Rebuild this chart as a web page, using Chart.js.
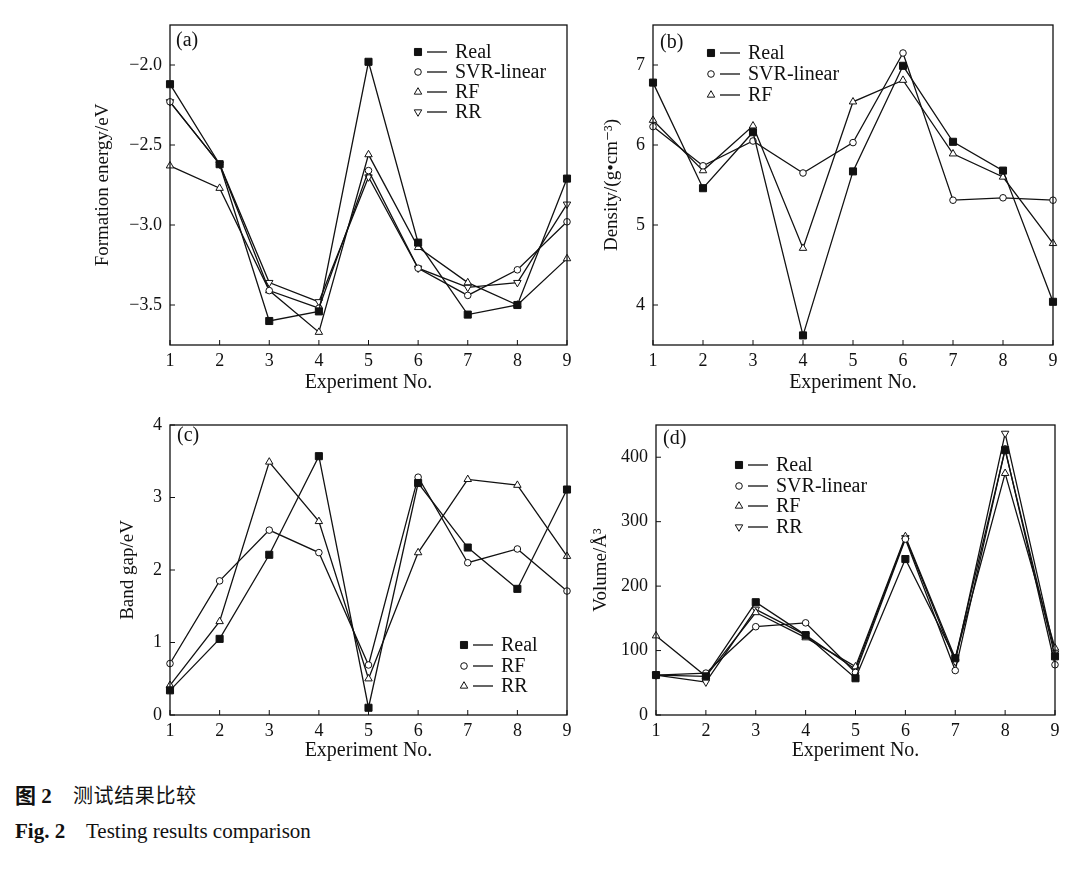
<!DOCTYPE html>
<html>
<head>
<meta charset="utf-8">
<script src="https://cdn.jsdelivr.net/npm/chart.js@4/dist/chart.umd.min.js"></script>
<style>
  html, body { margin: 0; padding: 0; background: #fff; }
  body { width: 1067px; height: 870px; position: relative; overflow: hidden; }
  canvas { position: absolute; }
  .cap { position: absolute; font-family: "Liberation Serif", "Noto Sans CJK SC", serif; font-size: 21px; color: #111; white-space: nowrap; line-height: 1; }
  .cap b { font-weight: bold; }
</style>
</head>
<body>
<canvas id="ca"></canvas>
<canvas id="cb"></canvas>
<canvas id="cc"></canvas>
<canvas id="cd"></canvas>
<div class="cap" style="left:15px; top:786px;"><b>图 2</b></div>
<div class="cap" style="left:73px; top:785px; font-family: 'Noto Sans CJK SC', sans-serif; font-size:20px; letter-spacing:0.6px;">测试结果比较</div>
<div class="cap" style="left:15px; top:821px;"><b>Fig. 2</b></div>
<div class="cap" style="left:86px; top:821px;">Testing results comparison</div>
<script>
// ---------- data ----------
const experiments = ['1', '2', '3', '4', '5', '6', '7', '8', '9'];

const formationReal = [-2.12, -2.62, -3.60, -3.54, -1.98, -3.11, -3.56, -3.50, -2.71];
const formationSVR  = [-2.23, -2.62, -3.41, -3.52, -2.66, -3.27, -3.44, -3.28, -2.98];
const formationRF   = [-2.63, -2.77, -3.41, -3.67, -2.56, -3.14, -3.36, -3.50, -3.21];
const formationRR   = [-2.23, -2.62, -3.36, -3.48, -2.70, -3.27, -3.39, -3.36, -2.87];
const formationTicks = [-3.5, -3.0, -2.5, -2.0];

const densityReal = [6.78, 5.46, 6.16, 3.62, 5.67, 6.99, 6.04, 5.68, 4.04];
const densitySVR  = [6.23, 5.74, 6.05, 5.65, 6.03, 7.15, 5.31, 5.34, 5.31];
const densityRF   = [6.31, 5.68, 6.24, 4.71, 6.54, 6.81, 5.89, 5.60, 4.77];
const densityTicks = [4, 5, 6, 7];

const bandReal = [0.34, 1.05, 2.21, 3.57, 0.10, 3.20, 2.31, 1.74, 3.11];
const bandRF   = [0.71, 1.85, 2.55, 2.24, 0.69, 3.28, 2.10, 2.29, 1.71];
const bandRR   = [0.41, 1.29, 3.49, 2.67, 0.50, 2.24, 3.25, 3.17, 2.19];
const bandTicks = [0, 1, 2, 3, 4];

const volumeReal = [62, 60, 175, 124, 57, 242, 88, 411, 91];
const volumeSVR  = [62, 65, 137, 143, 66, 273, 69, 413, 78];
const volumeRF   = [123, 60, 159, 120, 75, 277, 88, 375, 104];
const volumeRR   = [62, 51, 164, 124, 71, 275, 83, 437, 96];
const volumeTicks = [0, 100, 200, 300, 400];

// ---------- styling ----------
const INK = '#111';
const SERIF = '"Liberation Serif", "DejaVu Serif", "Times New Roman", serif';
const STYLES = {
  square: { pointStyle: 'rect', pointRadius: 5, pointRotation: 0, fill: INK },
  circle: { pointStyle: 'circle', pointRadius: 3.3, pointRotation: 0, fill: '#fff' },
  triUp:  { pointStyle: 'triangle', pointRadius: 4.3, pointRotation: 0, fill: '#fff' },
  triDn:  { pointStyle: 'triangle', pointRadius: 4.3, pointRotation: 180, fill: '#fff' }
};

function ds(label, data, styleKey) {
  const s = STYLES[styleKey];
  return {
    label, data, styleKey,
    borderColor: INK, borderWidth: 1.3,
    pointStyle: s.pointStyle, pointRadius: s.pointRadius, pointRotation: s.pointRotation,
    pointBackgroundColor: s.fill, pointBorderColor: INK, pointBorderWidth: 1,
    pointHoverRadius: s.pointRadius, tension: 0, fill: false
  };
}

function drawMarker(ctx, key, x, y) {
  const s = STYLES[key];
  ctx.save();
  ctx.lineWidth = 1; ctx.strokeStyle = INK; ctx.fillStyle = s.fill;
  ctx.beginPath();
  if (key === 'square') {
    const h = s.pointRadius * Math.SQRT1_2;
    ctx.rect(x - h, y - h, 2 * h, 2 * h);
  } else if (key === 'circle') {
    ctx.arc(x, y, s.pointRadius, 0, Math.PI * 2);
  } else {
    const r = s.pointRadius;
    let a = s.pointRotation * Math.PI / 180;
    ctx.moveTo(x + Math.sin(a) * r, y - Math.cos(a) * r);
    a += 2 * Math.PI / 3;
    ctx.lineTo(x + Math.sin(a) * r, y - Math.cos(a) * r);
    a += 2 * Math.PI / 3;
    ctx.lineTo(x + Math.sin(a) * r, y - Math.cos(a) * r);
    ctx.closePath();
  }
  ctx.fill(); ctx.stroke();
  ctx.restore();
}

const framePlugin = {
  id: 'frame',
  afterDraw(chart, args, opts) {
    const { ctx, chartArea: a } = chart;
    ctx.save();
    ctx.strokeStyle = INK; ctx.lineWidth = 1.3;
    ctx.strokeRect(a.left, a.top, a.right - a.left, a.bottom - a.top);
    // inward ticks
    ctx.lineWidth = 1;
    const xs = chart.scales.x, ys = chart.scales.y;
    ctx.beginPath();
    xs.ticks.forEach((t, i) => {
      const px = xs.getPixelForTick(i);
      ctx.moveTo(px, a.bottom); ctx.lineTo(px, a.bottom - 5);
    });
    ys.ticks.forEach((t, i) => {
      const py = ys.getPixelForValue(t.value);
      ctx.moveTo(a.left, py); ctx.lineTo(a.left + 5, py);
    });
    ctx.stroke();
    // panel label
    ctx.fillStyle = INK; ctx.font = '20px ' + SERIF;
    ctx.textBaseline = 'middle'; ctx.textAlign = 'left';
    ctx.fillText(opts.panel, opts.panelX, opts.panelY);
    // legend
    chart.data.datasets.forEach((d, i) => {
      const y = opts.legendY[i];
      const x = opts.legendX;
      drawMarker(ctx, d.styleKey, x, y);
      ctx.beginPath(); ctx.lineWidth = 1.3;
      ctx.moveTo(x + 9, y); ctx.lineTo(x + 29, y); ctx.stroke();
      ctx.fillText(d.label, x + 37, y + 1);
    });
    ctx.restore();
  }
};

function makePanel(id, box, datasets, yCfg, yTitle, panel) {
  const cv = document.getElementById(id);
  cv.width = box.w; cv.height = box.h;
  cv.style.left = box.left + 'px'; cv.style.top = box.top + 'px';
  cv.style.width = box.w + 'px'; cv.style.height = box.h + 'px';
  new Chart(cv, {
    type: 'line',
    data: { labels: experiments, datasets },
    options: {
      responsive: false, animation: false, devicePixelRatio: 1,
      layout: { padding: { top: 19, right: box.padR, left: 0, bottom: 0 } },
      plugins: {
        legend: { display: false }, tooltip: { enabled: false },
        frame: {
          panel: panel.text,
          panelX: panel.x - box.left, panelY: panel.y - box.top,
          legendX: panel.legendX - box.left,
          legendY: panel.legendY.map(v => v - box.top)
        }
      },
      scales: {
        x: {
          type: 'category', offset: false,
          grid: { display: false, drawTicks: false },
          border: { display: false },
          ticks: { color: INK, font: { family: SERIF, size: 18 }, padding: 5, maxRotation: 0, autoSkip: false },
          title: { display: true, text: 'Experiment No.', color: INK, font: { family: SERIF, size: 20 }, padding: 0 },
          afterFit(s) { s.height = box.xh; }
        },
        y: {
          min: yCfg.min, max: yCfg.max,
          grid: { display: false, drawTicks: false },
          border: { display: false },
          afterBuildTicks(s) { s.ticks = yCfg.ticks.map(v => ({ value: v })); },
          ticks: { color: INK, font: { family: SERIF, size: 18 }, padding: 8, callback: yCfg.fmt },
          title: { display: true, text: yTitle, color: INK, font: { family: SERIF, size: 19 }, padding: 0 },
          afterFit(s) { s.width = box.yw; }
        }
      }
    },
    plugins: [framePlugin]
  });
}

const fmt1 = v => Number(v).toFixed(1).replace('-', '\u2212');
const fmt0 = v => String(Math.round(v));

makePanel('ca', { left: 92, top: 6, w: 487, h: 389, yw: 78, xh: 50, padR: 12 },
  [ds('Real', formationReal, 'square'), ds('SVR-linear', formationSVR, 'circle'),
   ds('RF', formationRF, 'triUp'), ds('RR', formationRR, 'triDn')],
  { min: -3.75, max: -1.75, ticks: formationTicks, fmt: fmt1 }, 'Formation energy/eV',
  { text: '(a)', x: 176, y: 41, legendX: 418, legendY: [52, 72, 92, 112] });

makePanel('cb', { left: 601, top: 6, w: 464, h: 389, yw: 52, xh: 50, padR: 12 },
  [ds('Real', densityReal, 'square'), ds('SVR-linear', densitySVR, 'circle'),
   ds('RF', densityRF, 'triUp')],
  { min: 3.5, max: 7.5, ticks: densityTicks, fmt: fmt0 }, 'Density/(g\u2022cm\u207B\u00B3)',
  { text: '(b)', x: 660, y: 43, legendX: 711, legendY: [53, 74, 95] });

makePanel('cc', { left: 117, top: 406, w: 462, h: 357, yw: 53, xh: 48, padR: 12 },
  [ds('Real', bandReal, 'square'), ds('RF', bandRF, 'circle'), ds('RR', bandRR, 'triUp')],
  { min: 0, max: 4, ticks: bandTicks, fmt: fmt0 }, 'Band gap/eV',
  { text: '(c)', x: 177, y: 436, legendX: 464, legendY: [645, 666, 686] });

makePanel('cd', { left: 590, top: 406, w: 477, h: 357, yw: 66, xh: 48, padR: 12 },
  [ds('Real', volumeReal, 'square'), ds('SVR-linear', volumeSVR, 'circle'),
   ds('RF', volumeRF, 'triUp'), ds('RR', volumeRR, 'triDn')],
  { min: 0, max: 450, ticks: volumeTicks, fmt: fmt0 }, 'Volume/\u00C5\u00B3',
  { text: '(d)', x: 663, y: 439, legendX: 739, legendY: [465, 486, 506, 527] });
</script>
</body>
</html>
